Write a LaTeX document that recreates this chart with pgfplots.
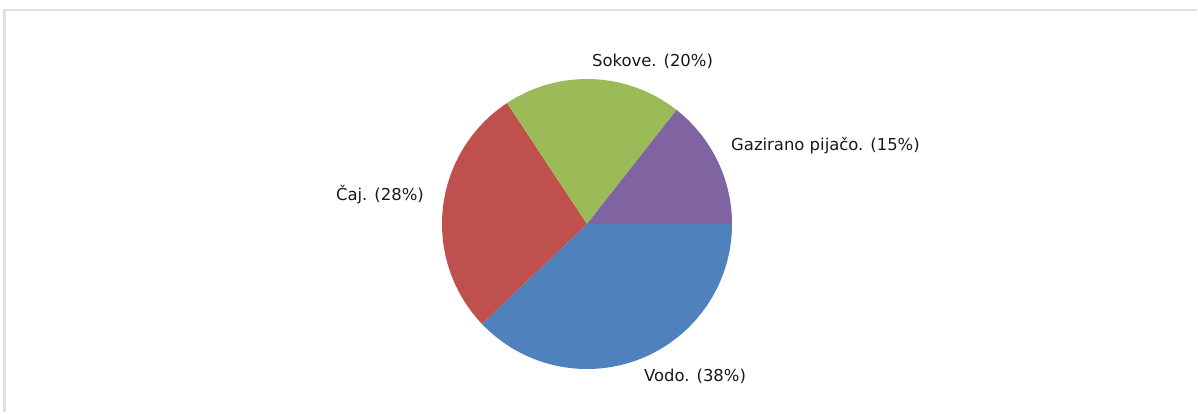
\documentclass[border=0pt]{standalone}
\usepackage{fontspec}
\setmainfont{DejaVu Sans}
\usepackage{pgfplots}
\usepackage{pgfplotstable}
\pgfplotsset{compat=1.18}

\definecolor{cVodo}{HTML}{4F81BD}
\definecolor{cCaj}{HTML}{C0504D}
\definecolor{cSok}{HTML}{9BBB59}
\definecolor{cGaz}{HTML}{8064A2}
\definecolor{frame}{HTML}{E0E0E0}

% shares of the slices (percent), clockwise from 3 o'clock
\pgfplotstableread{
value
37.9
27.8
19.9
14.4
}\piedata

\pgfplotstablegetelem{0}{value}\of\piedata \let\vA\pgfplotsretval
\pgfplotstablegetelem{1}{value}\of\piedata \let\vB\pgfplotsretval
\pgfplotstablegetelem{2}{value}\of\piedata \let\vC\pgfplotsretval
\pgfplotstablegetelem{3}{value}\of\piedata \let\vD\pgfplotsretval
\pgfmathsetmacro\tot{\vA+\vB+\vC+\vD}
\pgfmathsetmacro\aA{-360*\vA/\tot}
\pgfmathsetmacro\aB{\aA-360*\vB/\tot}
\pgfmathsetmacro\aC{\aB-360*\vC/\tot}
\pgfmathsetmacro\aD{\aC-360*\vD/\tot}

\begin{document}
\begin{tikzpicture}
\begin{axis}[
    hide axis,
    scale only axis,
    width=1198bp, height=412bp,
    xmin=0, xmax=1198, ymin=0, ymax=412,
    clip=false,
]
\path (axis cs:0,0) rectangle (axis cs:1198,412);
% frame
\draw[frame, line width=2bp] (axis cs:4.5,0) -- (axis cs:4.5,401.5) -- (axis cs:1197,401.5);

% slices
\fill[cVodo] (axis cs:587,188) -- ++(0:145bp) arc[start angle=0, end angle=\aA, radius=145bp] -- cycle;
\fill[cCaj] (axis cs:587,188) -- ++(\aA:145bp) arc[start angle=\aA, end angle=\aB, radius=145bp] -- cycle;
\fill[cSok] (axis cs:587,188) -- ++(\aB:145bp) arc[start angle=\aB, end angle=\aC, radius=145bp] -- cycle;
\fill[cGaz] (axis cs:587,188) -- ++(\aC:145bp) arc[start angle=\aC, end angle=\aD, radius=145bp] -- cycle;

% labels
\begin{scope}[every node/.style={font=\fontsize{16.5}{19}\selectfont, text=black!90, inner sep=0pt}]
\node[anchor=center] at (axis cs:652.5,351) {Sokove. (20\%)};
\node[anchor=west] at (axis cs:731,266) {Gazirano pijačo. (15\%)};
\node[anchor=east] at (axis cs:424,217) {Čaj. (28\%)};
\node[anchor=west] at (axis cs:644,36) {Vodo. (38\%)};
\end{scope}
\end{axis}
\end{tikzpicture}
\end{document}
